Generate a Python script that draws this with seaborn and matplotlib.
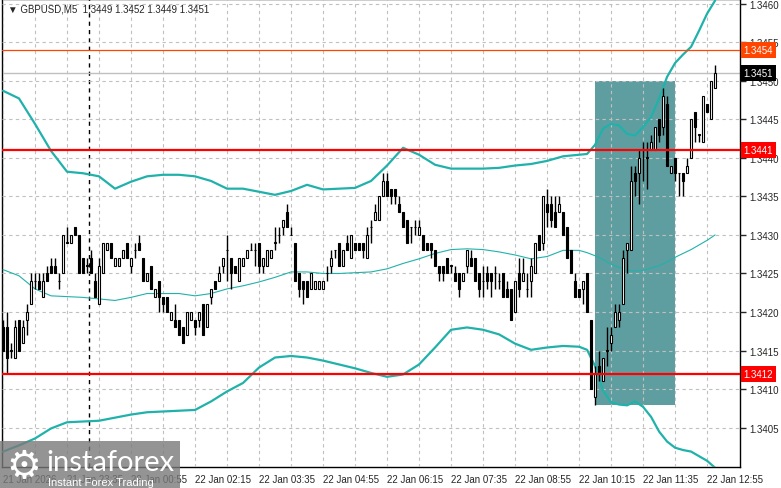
import numpy as np
import pandas as pd
import seaborn as sns
import matplotlib.pyplot as plt
from matplotlib.patches import Rectangle

# GBPUSD M5 candles (bar 0 = 21 Jan 22:15)
opens = [
    1.3418, 1.3418, 1.3415, 1.3414, 1.3419, 1.3416, 1.3419, 1.3421, 1.3424, 1.3424,
    1.3422, 1.3425, 1.3426, 1.3426, 1.3424, 1.3425, 1.3429, 1.3429, 1.3431, 1.3430,
    1.3427, 1.3426, 1.3427, 1.3424, 1.3421, 1.3425, 1.3428, 1.3429, 1.3426, 1.3426,
    1.3427, 1.3429, 1.3426, 1.3428, 1.3429, 1.3427, 1.3424, 1.3426, 1.3422, 1.3424,
    1.3422, 1.3422, 1.3419, 1.3419, 1.3419, 1.3418, 1.3417, 1.3419, 1.3419, 1.3419,
    1.3421, 1.3418, 1.3422, 1.3424, 1.3424, 1.3426, 1.3428, 1.3427, 1.3426, 1.3424,
    1.3426, 1.3427, 1.3428, 1.3428, 1.3429, 1.3426, 1.3426, 1.3427, 1.3429, 1.3430,
    1.3431, 1.3433, 1.3430, 1.3429, 1.3425, 1.3424, 1.3424, 1.3423, 1.3423, 1.3423,
    1.3423, 1.3425, 1.3426, 1.3428, 1.3429, 1.3426, 1.3429, 1.3427, 1.3429, 1.3429,
    1.3429, 1.3427, 1.3431, 1.3432, 1.3432, 1.3435, 1.3437, 1.3436, 1.3436, 1.3434,
    1.3433, 1.3432, 1.3431, 1.3431, 1.3430, 1.3430, 1.3429, 1.3429, 1.3428, 1.3426,
    1.3426, 1.3427, 1.3426, 1.3425, 1.3425, 1.3424, 1.3426, 1.3427, 1.3427, 1.3425,
    1.3424, 1.3425, 1.3425, 1.3425, 1.3424, 1.3425, 1.3423, 1.3423, 1.3420, 1.3425,
    1.3424, 1.3423, 1.3424, 1.3425, 1.3430, 1.3429, 1.3434, 1.3434, 1.3433, 1.3433,
    1.3433, 1.3431, 1.3428, 1.3424, 1.3423, 1.3423, 1.3425, 1.3419, 1.3409, 1.3413,
    1.3411, 1.3415, 1.3416, 1.3418, 1.3419, 1.3421, 1.3428, 1.3428, 1.3438, 1.3438,
    1.3441, 1.3440, 1.3441, 1.3441, 1.3445, 1.3444, 1.3447, 1.3438, 1.3440, 1.3438,
    1.3438, 1.3438, 1.3440, 1.3446, 1.3443, 1.3442, 1.3447, 1.3445, 1.3449,
]
highs = [
    1.3419, 1.3420, 1.3416, 1.3419, 1.3419, 1.3419, 1.3421, 1.3425, 1.3425, 1.3425,
    1.3425, 1.3426, 1.3427, 1.3427, 1.3425, 1.3430, 1.3431, 1.3430, 1.3431, 1.3430,
    1.3427, 1.3427, 1.3428, 1.3425, 1.3427, 1.3429, 1.3429, 1.3429, 1.3427, 1.3427,
    1.3428, 1.3429, 1.3427, 1.3429, 1.3430, 1.3427, 1.3425, 1.3426, 1.3423, 1.3424,
    1.3422, 1.3422, 1.3420, 1.3421, 1.3419, 1.3418, 1.3420, 1.3420, 1.3419, 1.3420,
    1.3421, 1.3421, 1.3423, 1.3424, 1.3426, 1.3427, 1.3430, 1.3427, 1.3426, 1.3427,
    1.3427, 1.3428, 1.3429, 1.3429, 1.3429, 1.3427, 1.3428, 1.3428, 1.3431, 1.3431,
    1.3432, 1.3434, 1.3431, 1.3429, 1.3425, 1.3424, 1.3424, 1.3425, 1.3424, 1.3424,
    1.3424, 1.3426, 1.3428, 1.3428, 1.3429, 1.3428, 1.3430, 1.3430, 1.3429, 1.3429,
    1.3429, 1.3431, 1.3432, 1.3434, 1.3435, 1.3438, 1.3438, 1.3436, 1.3436, 1.3435,
    1.3433, 1.3432, 1.3431, 1.3432, 1.3432, 1.3430, 1.3429, 1.3429, 1.3428, 1.3426,
    1.3426, 1.3427, 1.3426, 1.3426, 1.3425, 1.3425, 1.3428, 1.3428, 1.3427, 1.3425,
    1.3426, 1.3426, 1.3425, 1.3426, 1.3425, 1.3425, 1.3424, 1.3423, 1.3424, 1.3427,
    1.3427, 1.3425, 1.3427, 1.3429, 1.3430, 1.3435, 1.3436, 1.3435, 1.3435, 1.3435,
    1.3433, 1.3431, 1.3428, 1.3425, 1.3423, 1.3424, 1.3425, 1.3419, 1.3413, 1.3415,
    1.3414, 1.3418, 1.3418, 1.3421, 1.3421, 1.3428, 1.3429, 1.3439, 1.3439, 1.3441,
    1.3442, 1.3442, 1.3443, 1.3444, 1.3445, 1.3449, 1.3448, 1.3439, 1.3440, 1.3438,
    1.3438, 1.3440, 1.3445, 1.3446, 1.3443, 1.3448, 1.3447, 1.3450, 1.3452,
]
lows = [
    1.3415, 1.3412, 1.3414, 1.3414, 1.3415, 1.3416, 1.3417, 1.3421, 1.3423, 1.3423,
    1.3422, 1.3424, 1.3425, 1.3425, 1.3423, 1.3425, 1.3429, 1.3429, 1.3430, 1.3425,
    1.3425, 1.3425, 1.3425, 1.3422, 1.3421, 1.3425, 1.3428, 1.3427, 1.3426, 1.3426,
    1.3427, 1.3427, 1.3425, 1.3427, 1.3428, 1.3424, 1.3424, 1.3423, 1.3422, 1.3420,
    1.3420, 1.3420, 1.3419, 1.3418, 1.3417, 1.3416, 1.3417, 1.3419, 1.3417, 1.3418,
    1.3417, 1.3418, 1.3421, 1.3423, 1.3424, 1.3425, 1.3424, 1.3423, 1.3425, 1.3424,
    1.3426, 1.3427, 1.3428, 1.3426, 1.3425, 1.3425, 1.3426, 1.3427, 1.3428, 1.3429,
    1.3430, 1.3431, 1.3430, 1.3424, 1.3422, 1.3421, 1.3422, 1.3423, 1.3423, 1.3423,
    1.3423, 1.3424, 1.3425, 1.3427, 1.3426, 1.3426, 1.3428, 1.3427, 1.3428, 1.3428,
    1.3427, 1.3427, 1.3429, 1.3432, 1.3432, 1.3435, 1.3435, 1.3434, 1.3434, 1.3433,
    1.3431, 1.3429, 1.3429, 1.3430, 1.3430, 1.3428, 1.3428, 1.3427, 1.3426, 1.3424,
    1.3424, 1.3425, 1.3425, 1.3424, 1.3422, 1.3424, 1.3425, 1.3426, 1.3424, 1.3422,
    1.3422, 1.3423, 1.3422, 1.3423, 1.3423, 1.3422, 1.3422, 1.3419, 1.3420, 1.3422,
    1.3424, 1.3422, 1.3422, 1.3425, 1.3428, 1.3428, 1.3431, 1.3431, 1.3431, 1.3433,
    1.3430, 1.3427, 1.3425, 1.3422, 1.3422, 1.3421, 1.3420, 1.3410, 1.3408, 1.3411,
    1.3411, 1.3413, 1.3415, 1.3418, 1.3418, 1.3421, 1.3425, 1.3428, 1.3435, 1.3434,
    1.3437, 1.3436, 1.3441, 1.3441, 1.3442, 1.3443, 1.3439, 1.3438, 1.3437, 1.3435,
    1.3435, 1.3438, 1.3440, 1.3442, 1.3442, 1.3442, 1.3446, 1.3445, 1.3449,
]
closes = [
    1.3415, 1.3414, 1.3415, 1.3418, 1.3415, 1.3418, 1.3420, 1.3424, 1.3424, 1.3423,
    1.3424, 1.3424, 1.3425, 1.3425, 1.3424, 1.3430, 1.3429, 1.3430, 1.3430, 1.3425,
    1.3425, 1.3426, 1.3425, 1.3422, 1.3426, 1.3429, 1.3429, 1.3427, 1.3427, 1.3427,
    1.3428, 1.3427, 1.3427, 1.3428, 1.3428, 1.3424, 1.3425, 1.3423, 1.3423, 1.3422,
    1.3421, 1.3420, 1.3420, 1.3418, 1.3417, 1.3416, 1.3420, 1.3420, 1.3418, 1.3420,
    1.3417, 1.3421, 1.3423, 1.3423, 1.3425, 1.3427, 1.3428, 1.3425, 1.3425, 1.3427,
    1.3427, 1.3428, 1.3428, 1.3428, 1.3426, 1.3427, 1.3428, 1.3428, 1.3429, 1.3430,
    1.3432, 1.3431, 1.3430, 1.3424, 1.3423, 1.3423, 1.3422, 1.3425, 1.3424, 1.3424,
    1.3424, 1.3425, 1.3427, 1.3428, 1.3426, 1.3428, 1.3428, 1.3430, 1.3428, 1.3428,
    1.3428, 1.3430, 1.3431, 1.3433, 1.3435, 1.3437, 1.3435, 1.3435, 1.3435, 1.3433,
    1.3431, 1.3429, 1.3431, 1.3431, 1.3431, 1.3428, 1.3428, 1.3428, 1.3426, 1.3425,
    1.3425, 1.3425, 1.3426, 1.3424, 1.3423, 1.3425, 1.3428, 1.3426, 1.3424, 1.3423,
    1.3424, 1.3424, 1.3424, 1.3425, 1.3424, 1.3422, 1.3422, 1.3419, 1.3424, 1.3423,
    1.3425, 1.3423, 1.3426, 1.3429, 1.3428, 1.3435, 1.3433, 1.3432, 1.3431, 1.3434,
    1.3430, 1.3427, 1.3425, 1.3422, 1.3422, 1.3424, 1.3420, 1.3410, 1.3412, 1.3412,
    1.3414, 1.3415, 1.3417, 1.3420, 1.3420, 1.3427, 1.3429, 1.3437, 1.3437, 1.3440,
    1.3441, 1.3440, 1.3442, 1.3444, 1.3443, 1.3448, 1.3439, 1.3439, 1.3438, 1.3438,
    1.3437, 1.3439, 1.3445, 1.3444, 1.3443, 1.3448, 1.3446, 1.3450, 1.3451,
]

# Bollinger bands, sampled off the chart at these bars
band_bars = [0, 4, 8, 12, 16, 20, 24, 28, 32, 36, 40, 44, 48, 52, 56, 60, 64, 68, 72, 76,
             80, 84, 88, 92, 96, 100, 104, 108, 112, 116, 120, 124, 128, 132, 136, 140,
             144, 146, 148, 150, 152, 154, 156, 158, 160, 162, 164, 166, 168, 170, 172,
             174, 176, 178]
band_upper = [1.34487, 1.34477, 1.34444, 1.34409, 1.34382, 1.34380, 1.34376, 1.34360,
              1.34369, 1.34376, 1.34378, 1.34378, 1.34376, 1.34370, 1.34360, 1.34360,
              1.34356, 1.34352, 1.34357, 1.34365, 1.34359, 1.34360, 1.34361, 1.34370,
              1.34390, 1.34413, 1.34404, 1.34391, 1.34386, 1.34386, 1.34386, 1.34387,
              1.34390, 1.34392, 1.34396, 1.34402, 1.34404, 1.34405, 1.34417, 1.34438,
              1.34444, 1.34442, 1.34431, 1.34429, 1.34440, 1.34453, 1.34477, 1.34505,
              1.34523, 1.34534, 1.34544, 1.34565, 1.34587, 1.34604]
band_middle = [1.34255, 1.34247, 1.34230, 1.34221, 1.34220, 1.34219, 1.34217, 1.34215,
               1.34219, 1.34224, 1.34224, 1.34224, 1.34221, 1.34224, 1.34230, 1.34234,
               1.34239, 1.34245, 1.34252, 1.34252, 1.34250, 1.34250, 1.34251, 1.34252,
               1.34256, 1.34263, 1.34269, 1.34276, 1.34281, 1.34282, 1.34281, 1.34278,
               1.34274, 1.34269, 1.34272, 1.34280, 1.34280, 1.34277, 1.34273, 1.34268,
               1.34262, 1.34258, 1.34254, 1.34253, 1.34254, 1.34257, 1.34260, 1.34265,
               1.34271, 1.34276, 1.34281, 1.34287, 1.34293, 1.34300]
band_lower = [1.34019, 1.34027, 1.34036, 1.34049, 1.34057, 1.34058, 1.34059, 1.34063,
              1.34067, 1.34070, 1.34071, 1.34072, 1.34073, 1.34084, 1.34097, 1.34108,
              1.34128, 1.34141, 1.34143, 1.34141, 1.34137, 1.34132, 1.34127, 1.34121,
              1.34116, 1.34119, 1.34132, 1.34154, 1.34177, 1.34180, 1.34177, 1.34171,
              1.34159, 1.34151, 1.34154, 1.34156, 1.34155, 1.34151, 1.34130, 1.34098,
              1.34083, 1.34080, 1.34079, 1.34084, 1.34077, 1.34064, 1.34045, 1.34032,
              1.34024, 1.34021, 1.34019, 1.34013, 1.34007, 1.33998]

tick_bars = [0, 16, 32, 48, 64, 80, 96, 112, 128, 144, 160, 176]
tick_labels = ["21 Jan 2026", "21 Jan 23:35", "22 Jan 00:55", "22 Jan 02:15",
               "22 Jan 03:35", "22 Jan 04:55", "22 Jan 06:15", "22 Jan 07:35",
               "22 Jan 08:55", "22 Jan 10:15", "22 Jan 11:35", "22 Jan 12:55"]
price_ticks = [1.3405, 1.3410, 1.3415, 1.3420, 1.3425, 1.3430, 1.3435, 1.3440,
               1.3445, 1.3450, 1.3455, 1.3460]

day_separator = 21.4
levels = [1.3441, 1.3412]
target_level = 1.3454
bid = 1.3451
box_bars = (147.9, 167.9)
box_prices = (1.3408, 1.3450)


def draw_candles(ax, df):
    up = df["close"] >= df["open"]
    ax.vlines(df["bar"], df["low"], df["high"], color="black", lw=1, zorder=4)
    bottom = df[["open", "close"]].min(axis=1)
    height = (df["close"] - df["open"]).abs().clip(lower=0.000005)
    ax.bar(df["bar"], height, bottom=bottom, width=0.62,
           color=np.where(up, "white", "black"), edgecolor="black",
           linewidth=0.8, zorder=5)


def price_tag(ax, price, face):
    ax.annotate(f"{price:.4f}", xy=(1.0, price), xycoords=("axes fraction", "data"),
                xytext=(2.2, 0), textcoords="offset points", ha="left", va="center",
                fontsize=7, color="white", annotation_clip=False, zorder=10,
                bbox=dict(boxstyle="square,pad=0.3", fc=face, ec="none"))


def main():
    sns.set_style("white")
    plt.rcParams["font.family"] = ["Liberation Sans", "DejaVu Sans"]

    df = pd.DataFrame({"open": opens, "high": highs, "low": lows, "close": closes})
    df["bar"] = np.arange(len(df))
    bands = pd.DataFrame({"bar": band_bars, "upper": band_upper,
                          "middle": band_middle, "lower": band_lower})

    fig = plt.figure(figsize=(7.81, 4.89), dpi=100)
    ax = fig.add_axes([2 / 781, 21 / 489, 738.5 / 781, 468 / 489])

    ax.add_patch(Rectangle((box_bars[0], box_prices[0]), box_bars[1] - box_bars[0],
                           box_prices[1] - box_prices[0], fc="#5f9ea0", ec="none", zorder=0.5))

    ax.set_xticks(tick_bars)
    ax.set_xticks(range(8, 184, 16), minor=True)
    ax.set_xticklabels(tick_labels, ha="left", fontsize=7)
    ax.set_yticks(price_ticks)
    ax.set_yticklabels([f"{p:.4f}" for p in price_ticks], fontsize=7)
    ax.yaxis.tick_right()
    ax.grid(True, which="both", color="#c0c0c0", linestyle=(0, (3, 3)), lw=0.8, zorder=1)
    ax.set_axisbelow(False)
    ax.tick_params(axis="x", which="major", direction="out", length=3, width=1, pad=2)
    ax.tick_params(axis="x", which="minor", length=0)
    ax.tick_params(axis="y", direction="out", length=4, width=1, pad=2)

    ax.axvline(day_separator, color="black", lw=1, linestyle=(0, (3, 3)), zorder=2)

    band_color = "#20b2aa"
    sns.lineplot(data=bands, x="bar", y="upper", color=band_color, lw=1.6, ax=ax, zorder=3)
    sns.lineplot(data=bands, x="bar", y="middle", color=band_color, lw=0.8, ax=ax, zorder=3)
    sns.lineplot(data=bands, x="bar", y="lower", color=band_color, lw=1.6, ax=ax, zorder=3)

    ax.axhline(bid, color="#c0c0c0", lw=1, zorder=2)
    ax.axhline(target_level, color="#ff4500", lw=0.9, zorder=6)
    for lv in levels:
        ax.axhline(lv, color="#ff0000", lw=1.6, zorder=6)

    draw_candles(ax, df)

    ax.set_xlim(-0.25, 184.35)
    ax.set_ylim(1.33999, 1.34606)
    ax.set_xlabel("")
    ax.set_ylabel("")
    for sp in ax.spines.values():
        sp.set_color("black")
        sp.set_linewidth(1)

    price_tag(ax, target_level, "#ff4500")
    price_tag(ax, bid, "black")
    for lv in levels:
        price_tag(ax, lv, "#ff0000")

    fig.text(8 / 781, 1 - 10 / 489, "▼ GBPUSD,M5  1.3449 1.3452 1.3449 1.3451",
             fontsize=7, va="center", ha="left", zorder=10)

    # watermark
    fig.patches.append(Rectangle((0, 0), 180 / 781, 47 / 489, transform=fig.transFigure,
                                 fc="#7a7a7a", ec="none", alpha=0.8, zorder=20))
    fig.text(24 / 781, 22 / 489, "⚙", fontsize=28, color="white", ha="center",
             va="center", family=["DejaVu Sans"], zorder=21)
    fig.text(46 / 781, 26 / 489, "instaforex", fontsize=21, color="white",
             ha="left", va="center", family=["Lato", "DejaVu Sans"], zorder=21)
    fig.text(48 / 781, 6 / 489, "Instant Forex Trading", fontsize=8, color="white",
             ha="left", va="center", zorder=21)

    fig.savefig("out.png", dpi=100)


if __name__ == "__main__":
    main()
